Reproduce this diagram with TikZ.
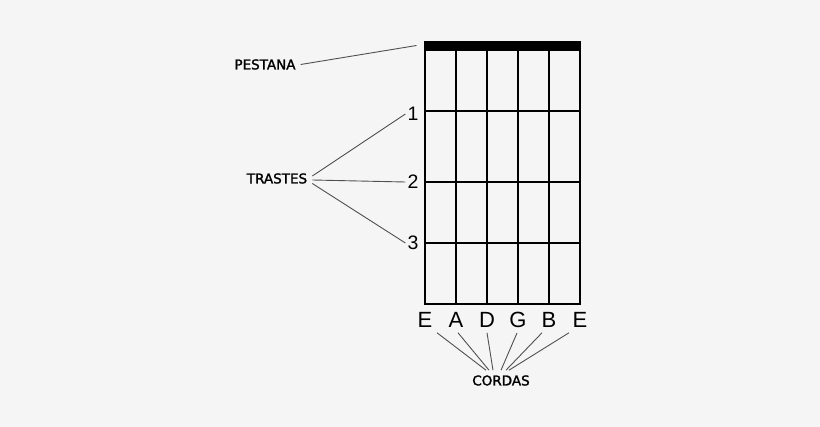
\documentclass[tikz,border=0pt]{standalone}
\usepackage{fontspec}
\usepackage{xcolor}
\usepackage{tikz}
\usetikzlibrary{positioning,calc}
\newfontfamily\tagfont[FakeBold=1.6]{DejaVu Sans}
\newfontfamily\notefont{Liberation Sans}
\definecolor{paper}{HTML}{F5F5F5}
\definecolor{leadgray}{HTML}{505050}
\tikzset{
  tag/.style={font=\tagfont\fontsize{13.5}{16}\selectfont, inner sep=5pt},
  fretnum/.style={font=\notefont\fontsize{19.5}{22}\selectfont, inner sep=2pt},
  strname/.style={font=\notefont\fontsize{22}{26}\selectfont, inner sep=2pt},
  lead/.style={leadgray, line width=0.9pt},
  wire/.style={line width=2.6pt}
}

\begin{document}
\begin{tikzpicture}[x=1pt,y=-1pt]
    % Background, fixes the size
    \fill[paper] (0,0) rectangle (820,427);
    \useasboundingbox (0,0) rectangle (820,427);

    % Fretboard: outline, strings, frets
    \draw[wire] (425,46) rectangle (580,304);
    \foreach \x in {456,487,518,549}
        \draw[wire] (\x,46) -- (\x,304);
    \foreach \y in {111,182,243}
        \draw[wire] (425,\y) -- (580,\y);
    % Nut
    \fill (423.7,41) rectangle (581.3,51);

    % Fret numbers
    \node[fretnum] (f1) at (413,114) {1};
    \node[fretnum] (f2) at (413,182) {2};
    \node[fretnum] (f3) at (413,243) {3};

    % String names
    \foreach \x/\s [count=\i] in {425/E,456/A,487/D,518/G,549/B,580/E}
        \node[strname] (s\i) at (\x,320) {\s};

    % Labels
    \node[tag] (pestana) at (265,64.5) {PESTANA};
    \node[tag] (trastes) at (277,178.5) {TRASTES};
    \node[tag] (cordas) at (501,380.5) {CORDAS};

    % Leader lines
    \coordinate (nut) at (416.5,45.5);
    \draw[lead] (pestana.east) -- (nut);
    \draw[lead] ([yshift=2.5pt]trastes.east) -- (f1.west);
    \draw[lead] ([yshift=-1.5pt]trastes.east) -- (f2.west);
    \draw[lead] ([yshift=-5pt]trastes.east) -- (f3.west);
    \foreach \i/\a/\b in {1/12/-15,2/2/-12,3/0/-8,4/-1/0,5/-7/5,6/-11/8}
        \draw[lead] ([xshift=\a pt,yshift=-3pt]s\i.south) -- ([xshift=\b pt]cordas.north);
\end{tikzpicture}
\end{document}
